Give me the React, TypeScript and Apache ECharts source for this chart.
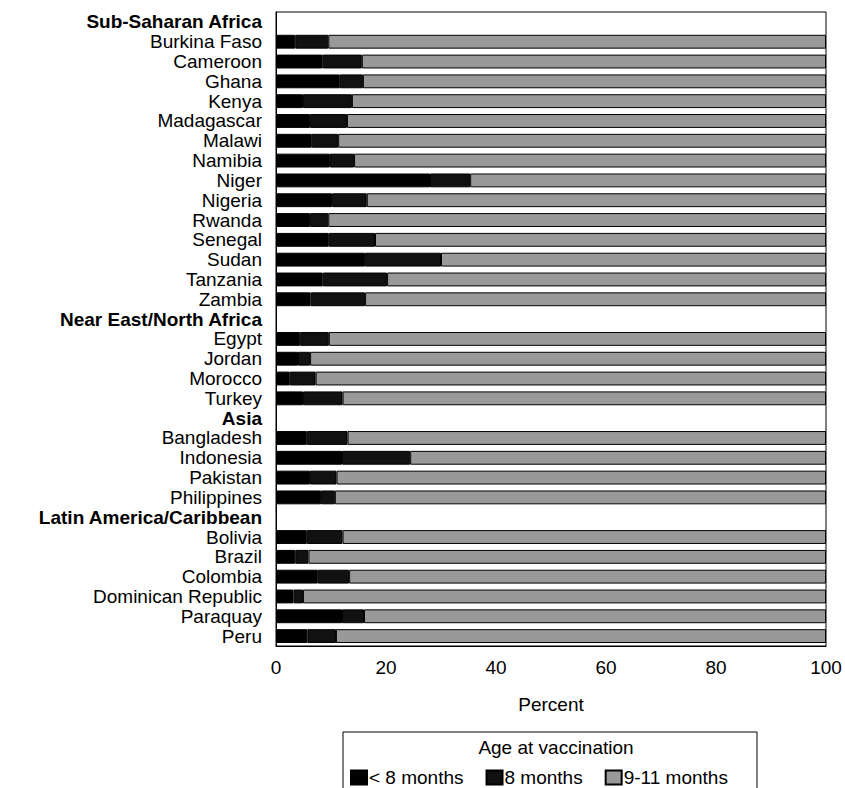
import React, { useEffect, useRef } from "react";
import * as echarts from "echarts";

const categories = [
  "Sub-Saharan Africa",
  "Burkina Faso",
  "Cameroon",
  "Ghana",
  "Kenya",
  "Madagascar",
  "Malawi",
  "Namibia",
  "Niger",
  "Nigeria",
  "Rwanda",
  "Senegal",
  "Sudan",
  "Tanzania",
  "Zambia",
  "Near East/North Africa",
  "Egypt",
  "Jordan",
  "Morocco",
  "Turkey",
  "Asia",
  "Bangladesh",
  "Indonesia",
  "Pakistan",
  "Philippines",
  "Latin America/Caribbean",
  "Bolivia",
  "Brazil",
  "Colombia",
  "Dominican Republic",
  "Paraquay",
  "Peru",
];

const headers = [
  "Sub-Saharan Africa",
  "Near East/North Africa",
  "Asia",
  "Latin America/Caribbean",
];

// null = region header row (no bar)
const under8 = [
  null, 3.5, 8.5, 11.6, 4.9, 6.2, 6.5, 9.8, 28.0, 10.2, 6.2, 9.6, 16.2, 8.5, 6.3,
  null, 4.4, 4.0, 2.5, 4.9,
  null, 5.6, 12.0, 6.2, 8.2,
  null, 5.6, 3.5, 7.6, 3.2, 12.0, 5.7,
];
const months8 = [
  null, 6.0, 7.1, 4.2, 8.9, 6.7, 4.8, 4.4, 7.3, 6.3, 3.3, 8.4, 13.8, 11.7, 9.9,
  null, 5.2, 2.2, 4.7, 7.2,
  null, 7.4, 12.4, 4.8, 2.5,
  null, 6.5, 2.4, 5.7, 1.7, 4.0, 5.2,
];
const months9to11 = [
  null, 90.5, 84.4, 84.2, 86.2, 87.1, 88.7, 85.8, 64.7, 83.5, 90.5, 82.0, 70.0, 79.8, 83.8,
  null, 90.4, 93.8, 92.8, 87.9,
  null, 87.0, 75.6, 89.0, 89.3,
  null, 87.9, 94.1, 86.7, 95.1, 84.0, 89.1,
];

const xTicks = [0, 20, 40, 60, 80, 100];
const seriesNames = ["< 8 months", "8 months", "9-11 months"];

export default function App() {
  const ref = useRef<HTMLDivElement>(null);

  useEffect(() => {
    if (!ref.current) return;
    const chart = echarts.init(ref.current, undefined, { renderer: "svg" });
    const font = "Liberation Sans, Arial, sans-serif";
    const option: any = {
      animation: false,
      backgroundColor: "#fff",
      textStyle: { fontFamily: font, color: "#000" },
      grid: {
        left: 276,
        right: 19,
        top: 12,
        bottom: 142,
        show: true,
        borderColor: "#000",
        borderWidth: 1,
      },
      xAxis: {
        type: "value",
        min: xTicks[0],
        max: xTicks[xTicks.length - 1],
        interval: 20,
        splitLine: { show: false },
        axisTick: { show: false },
        axisLine: { show: true, lineStyle: { color: "#000", width: 1 } },
        axisLabel: {
          color: "#000",
          fontSize: 19,
          fontFamily: font,
          margin: 12,
        },
        name: "Percent",
        nameLocation: "middle",
        nameGap: 49,
        nameTextStyle: { color: "#000", fontSize: 19, fontFamily: font },
      },
      yAxis: {
        type: "category",
        data: categories,
        inverse: true,
        axisTick: { show: false },
        axisLine: { show: true, lineStyle: { color: "#000", width: 1 } },
        axisLabel: {
          interval: 0,
          margin: 14,
          color: "#000",
          fontSize: 19,
          lineHeight: 18,
          fontFamily: font,
          formatter: (v: string) =>
            headers.includes(v) ? `{h|${v}}` : `{c|${v}}`,
          rich: {
            h: { fontSize: 19, lineHeight: 18, fontWeight: "bold", color: "#000", fontFamily: font },
            c: { fontSize: 19, lineHeight: 18, color: "#000", fontFamily: font },
          },
        },
      },
      legend: {
        data: seriesNames,
        left: 345,
        top: 763,
        itemWidth: 16,
        itemHeight: 14,
        itemGap: 22,
        icon: "rect",
        textStyle: { fontSize: 19, color: "#000", fontFamily: font, padding: [0, 0, 0, -3] },
        selectedMode: false,
      },
      graphic: [
        {
          type: "rect",
          shape: { x: 343, y: 732, width: 414, height: 70 },
          style: { fill: "none", stroke: "#000", lineWidth: 1 },
          silent: true,
        },
        {
          type: "text",
          x: 556,
          y: 747,
          style: {
            text: "Age at vaccination",
            fontSize: 19,
            fontFamily: font,
            fill: "#000",
            align: "center",
            verticalAlign: "middle",
          },
          silent: true,
        },
      ],
      series: [
        {
          name: seriesNames[0],
          type: "bar",
          stack: "total",
          barWidth: "70%",
          data: under8,
          itemStyle: { color: "#000", borderColor: "#000", borderWidth: 1 },
        },
        {
          name: seriesNames[1],
          type: "bar",
          stack: "total",
          barWidth: "70%",
          data: months8,
          itemStyle: { color: "#111", borderColor: "#000", borderWidth: 1 },
        },
        {
          name: seriesNames[2],
          type: "bar",
          stack: "total",
          barWidth: "70%",
          data: months9to11,
          itemStyle: { color: "#999", borderColor: "#000", borderWidth: 1 },
        },
      ],
    };
    chart.setOption(option);
    return () => chart.dispose();
  }, []);

  return (
    <div
      ref={ref}
      style={{ position: "absolute", left: 0, top: 0, width: 845, height: 788 }}
    />
  );
}
